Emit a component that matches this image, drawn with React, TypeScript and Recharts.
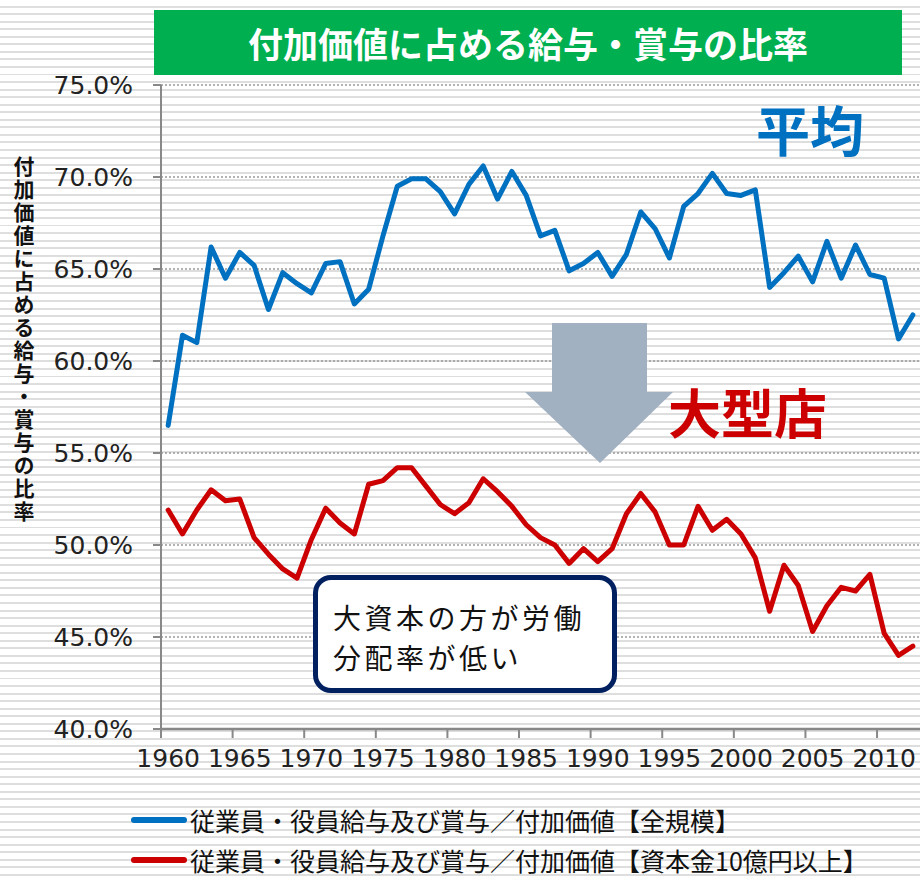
import React from 'react';
import { LineChart, Line, XAxis, YAxis, CartesianGrid, Legend } from 'recharts';

const years = [
  '1960', '1961', '1962', '1963', '1964', '1965', '1966', '1967', '1968', '1969',
  '1970', '1971', '1972', '1973', '1974', '1975', '1976', '1977', '1978', '1979',
  '1980', '1981', '1982', '1983', '1984', '1985', '1986', '1987', '1988', '1989',
  '1990', '1991', '1992', '1993', '1994', '1995', '1996', '1997', '1998', '1999',
  '2000', '2001', '2002', '2003', '2004', '2005', '2006', '2007', '2008', '2009',
  '2010', '2011', '2012',
];

const allSizes = [
  56.5, 61.4, 61.0, 66.2, 64.5, 65.9, 65.2, 62.8, 64.8, 64.2,
  63.7, 65.3, 65.4, 63.1, 63.9, 66.8, 69.5, 69.9, 69.9, 69.2,
  68.0, 69.6, 70.6, 68.8, 70.3, 69.0, 66.8, 67.1, 64.9, 65.3,
  65.9, 64.6, 65.8, 68.1, 67.2, 65.6, 68.4, 69.1, 70.2, 69.1,
  69.0, 69.3, 64.0, 64.8, 65.7, 64.3, 66.5, 64.5, 66.3, 64.7,
  64.5, 61.2, 62.5,
];

const largeCapital = [
  51.9, 50.6, 51.9, 53.0, 52.4, 52.5, 50.4, 49.5, 48.7, 48.2,
  50.3, 52.0, 51.2, 50.6, 53.3, 53.5, 54.2, 54.2, 53.2, 52.2,
  51.7, 52.3, 53.6, 52.9, 52.1, 51.1, 50.4, 50.0, 49.0, 49.8,
  49.1, 49.8, 51.7, 52.8, 51.8, 50.0, 50.0, 52.1, 50.8, 51.4,
  50.6, 49.3, 46.4, 48.9, 47.8, 45.3, 46.7, 47.7, 47.5, 48.4,
  45.2, 44.0, 44.5,
];

const yTicks = [40, 45, 50, 55, 60, 65, 70, 75];

const seriesNames = [
  '従業員・役員給与及び賞与／付加価値【全規模】',
  '従業員・役員給与及び賞与／付加価値【資本金10億円以上】',
];
const seriesKeys = ['all', 'large'];
const seriesColors = ['#0070C0', '#CC0000'];

const titleText = '付加価値に占める給与・賞与の比率';
const yAxisTitle = '付加価値に占める給与・賞与の比率';
const avgLabel = '平均';
const largeLabel = '大型店';
const calloutLines = ['大資本の方が労働', '分配率が低い'];

const data = years.map((y, i) => ({ year: y, all: allSizes[i], large: largeCapital[i] }));

const W = 920;
const H = 880;
const PLOT_LEFT = 161;
const PLOT_TOP = 85;
const PLOT_BOTTOM = 729;
const PLOT_W = W - PLOT_LEFT;
const STEP = PLOT_W / years.length;
const X_AXIS_H = 50;

const JP = '"Noto Sans CJK JP", "Noto Sans", sans-serif';
const NUM = '"DejaVu Sans", sans-serif';

const XTick = (props: any) => {
  const { x, payload } = props;
  const bx = x - STEP / 2;
  return (
    <g>
      <line x1={bx} y1={PLOT_BOTTOM} x2={bx} y2={PLOT_BOTTOM + 9} stroke="#888" strokeWidth={2} />
      <text x={x} y={PLOT_BOTTOM + 38} textAnchor="middle" fontFamily={NUM} fontSize={25} fill="#222">
        {payload.value}
      </text>
    </g>
  );
};

const LegendContent = (props: any) => {
  const payload = props.payload || [];
  return (
    <div style={{ position: 'relative', width: 800, height: 80 }}>
      {payload.map((p: any, i: number) => (
        <div
          key={p.value}
          style={{ position: 'absolute', left: 0, top: i * 40, height: 40, display: 'flex', alignItems: 'center', whiteSpace: 'nowrap' }}
        >
          <svg width={60} height={12} style={{ display: 'block' }}>
            <line x1={4} y1={6} x2={54} y2={6} stroke={p.color} strokeWidth={6} strokeLinecap="round" />
          </svg>
          <span style={{ fontFamily: JP, fontSize: 25, color: '#111', lineHeight: '40px' }}>{p.value}</span>
        </div>
      ))}
    </div>
  );
};

export default function App() {
  return (
    <div
      style={{
        position: 'absolute',
        left: 0,
        top: 0,
        width: W,
        height: H,
        overflow: 'hidden',
        background:
          'repeating-linear-gradient(to bottom, #ffffff 0px, #ffffff 5.6px, #dedede 5.6px, #dedede 7.55px)',
      }}
    >
      <LineChart
        width={W}
        height={H}
        data={data}
        margin={{ top: PLOT_TOP, right: 0, left: 0, bottom: H - PLOT_BOTTOM - X_AXIS_H }}
      >
        <CartesianGrid vertical={false} stroke="#999" strokeDasharray="2 2" strokeWidth={1.5} />
        <XAxis
          dataKey="year"
          interval={4}
          height={X_AXIS_H}
          padding={{ left: STEP / 2, right: STEP / 2 }}
          axisLine={{ stroke: '#888', strokeWidth: 2.5 }}
          tickLine={false}
          tick={<XTick />}
        />
        <YAxis
          width={PLOT_LEFT}
          domain={[40, 75]}
          ticks={yTicks}
          allowDataOverflow
          tickFormatter={(v: number) => v.toFixed(1) + '%'}
          axisLine={{ stroke: '#888', strokeWidth: 2 }}
          tickLine={{ stroke: '#888', strokeWidth: 2 }}
          tickSize={8}
          tickMargin={20}
          tick={{ fontFamily: NUM, fontSize: 25, fill: '#222' }}
        />
        <Legend
          layout="horizontal"
          verticalAlign="middle"
          align="center"
          wrapperStyle={{ top: 800, left: 130, width: 800, height: 80 }}
          content={<LegendContent />}
        />
        {seriesKeys.map((k, i) => (
          <Line
            key={k}
            type="linear"
            dataKey={k}
            name={seriesNames[i]}
            stroke={seriesColors[i]}
            strokeWidth={5}
            strokeLinejoin="round"
            strokeLinecap="round"
            dot={false}
            activeDot={false}
            isAnimationActive={false}
          />
        ))}
      </LineChart>

      {/* title */}
      <div
        style={{
          position: 'absolute', left: 154, top: 10, width: 748, height: 65, background: '#00B050',
          color: '#fff', fontFamily: JP, fontWeight: 700, fontSize: 35, lineHeight: '65px', textAlign: 'center',
        }}
      >
        {titleText}
      </div>

      {/* y axis title */}
      <div
        style={{
          position: 'absolute', left: 12, top: 156, width: 24, height: 380, writingMode: 'vertical-rl',
          textOrientation: 'upright', fontFamily: JP, fontWeight: 700, fontSize: 21, lineHeight: '24px',
          letterSpacing: 2, color: '#111',
        }}
      >
        {yAxisTitle}
      </div>

      {/* labels */}
      <div style={{ position: 'absolute', left: 756, top: 94, fontFamily: JP, fontWeight: 700, fontSize: 54, lineHeight: '70px', color: '#0070C0' }}>
        {avgLabel}
      </div>
      <div style={{ position: 'absolute', left: 668, top: 377, fontFamily: JP, fontWeight: 700, fontSize: 53, lineHeight: '68px', color: '#CC0000' }}>
        {largeLabel}
      </div>

      {/* arrow */}
      <svg width={W} height={H} style={{ position: 'absolute', left: 0, top: 0, pointerEvents: 'none' }}>
        <polygon points="552,323 647,323 647,392 673,392 600,463 525,392 552,392" fill="#A2B1C1" />
      </svg>

      {/* callout */}
      <div
        style={{
          position: 'absolute', left: 313, top: 575, width: 304, height: 118, border: '5px solid #002060',
          borderRadius: 18, background: '#fff', fontFamily: JP, fontSize: 28, lineHeight: '40px', color: '#111',
          paddingLeft: 15, paddingTop: 17, boxSizing: 'border-box', letterSpacing: 3.5,
        }}
      >
        <div>{calloutLines[0]}</div>
        <div>{calloutLines[1]}</div>
      </div>
    </div>
  );
}
